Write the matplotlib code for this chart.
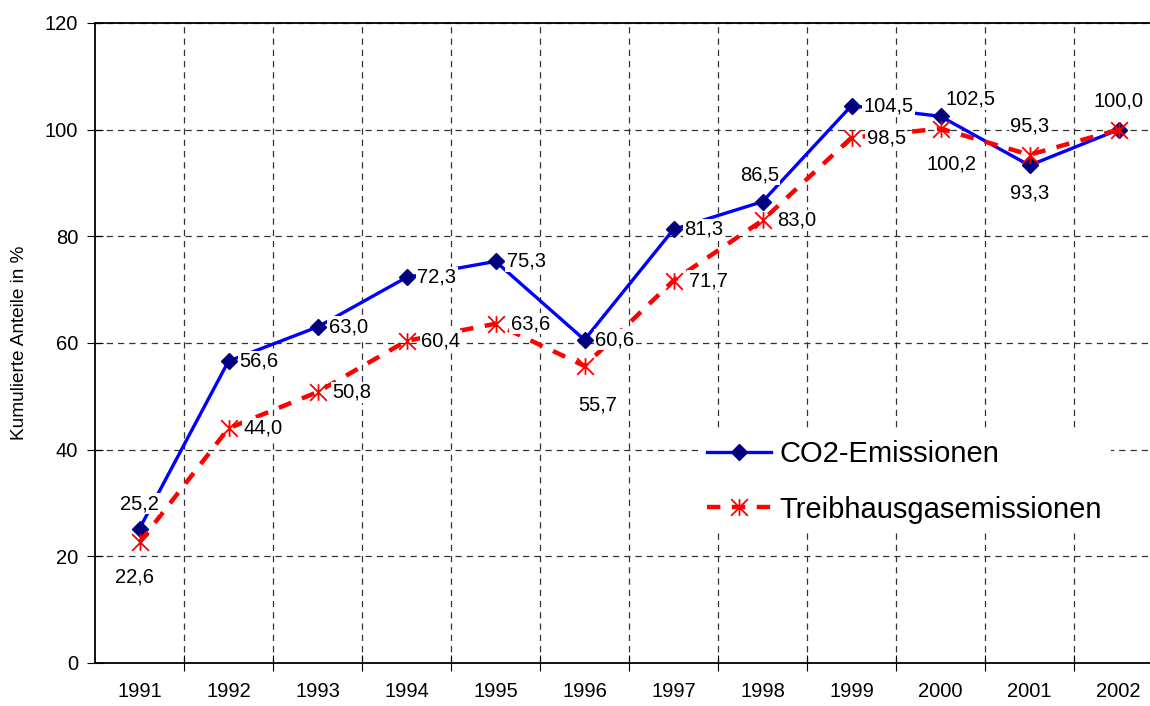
import matplotlib
matplotlib.use('Agg')
import matplotlib.pyplot as plt
from matplotlib.path import Path
import numpy as np

plt.rcParams['font.family'] = ['Liberation Sans', 'DejaVu Sans']

years = ['1991', '1992', '1993', '1994', '1995', '1996',
         '1997', '1998', '1999', '2000', '2001', '2002']
co2 = [25.2, 56.6, 63.0, 72.3, 75.3, 60.6, 81.3, 86.5, 104.5, 102.5, 93.3, 100.0]
thg = [22.6, 44.0, 50.8, 60.4, 63.6, 55.7, 71.7, 83.0, 98.5, 100.2, 95.3, 100.0]

# label placement in pixels: (dx, dy, ha)
co2_off = [(0, 25, 'center'), (11, 0, 'left'), (11, 0, 'left'), (11, 0, 'left'),
           (11, 0, 'left'), (11, 0, 'left'), (11, 0, 'left'), (-3, 27, 'center'),
           (12, 0, 'left'), (30, 17, 'center'), (0, -28, 'center'), (0, 29, 'center')]
thg_off = [(-5, -35, 'center'), (15, 0, 'left'), (15, 0, 'left'), (15, 0, 'left'),
           (15, 0, 'left'), (13, -39, 'center'), (15, 0, 'left'), (15, 0, 'left'),
           (15, 0, 'left'), (11, -35, 'center'), (0, 29, 'center'), None]

# X with a vertical bar, like the Excel star marker
star = Path([(-1, -1), (1, 1), (-1, 1), (1, -1), (0, -1), (0, 1)],
            [Path.MOVETO, Path.LINETO, Path.MOVETO, Path.LINETO, Path.MOVETO, Path.LINETO])

fig = plt.figure(figsize=(11.5, 7.06), dpi=100)
ax = fig.add_axes([95/1150, 43/706, 1068/1150, 640/706])
x = np.arange(len(years))

ax.plot(x, co2, color='#0000ff', lw=2.4, marker='D', ms=8.5,
        mfc='#000080', mec='#000080', label='CO2-Emissionen', zorder=3)
ax.plot(x, thg, color='#ff0000', lw=3.2, ls=(0, (3, 2.6)), marker=star, ms=12,
        mec='#ff0000', mew=1.3, label='Treibhausgasemissionen', zorder=3)

def lab(v):
    return f'{v:.1f}'.replace('.', ',')

k = 72 / 100
for vals, offs in [(co2, co2_off), (thg, thg_off)]:
    for i in range(len(years)):
        if offs[i] is None:
            continue
        dx, dy, ha = offs[i]
        ax.annotate(lab(vals[i]), (x[i], vals[i]), xytext=(dx * k, dy * k),
                    textcoords='offset points', fontsize=14.5, ha=ha, va='center',
                    bbox=dict(boxstyle='square,pad=0.05', fc='white', ec='none'), zorder=4)

ax.set_xlim(-0.5, 11.5)
ax.set_ylim(0, 120)
ax.set_yticks(range(0, 121, 20))
ax.set_xticks(np.arange(0.5, 11, 1))
ax.set_xticklabels([])
ax.set_xticks(x, minor=True)
ax.set_xticklabels(years, minor=True, fontsize=14.5)
ax.tick_params(axis='x', which='minor', length=0, pad=14)
ax.tick_params(axis='x', which='major', direction='inout', length=12)
ax.tick_params(axis='y', direction='inout', length=12, labelsize=14.5, pad=6)
ax.grid(True, which='major', color='#333333', ls=(0, (5, 4)), lw=0.9)
ax.set_axisbelow(True)
ax.spines['right'].set_visible(False)
for s in ['top', 'left', 'bottom']:
    ax.spines[s].set_linewidth(1.3)
ax.set_ylabel('Kumulierte Anteile in %', fontsize=13.7, labelpad=12)

leg = ax.legend(loc='upper left', bbox_to_anchor=(0.551, 0.385), fontsize=21,
                frameon=True, fancybox=False, edgecolor='none', framealpha=1,
                handlelength=2.2, handletextpad=0.3, labelspacing=0.95, borderpad=0.3)
leg.set_zorder(5)

fig.savefig('out.png', dpi=100)
